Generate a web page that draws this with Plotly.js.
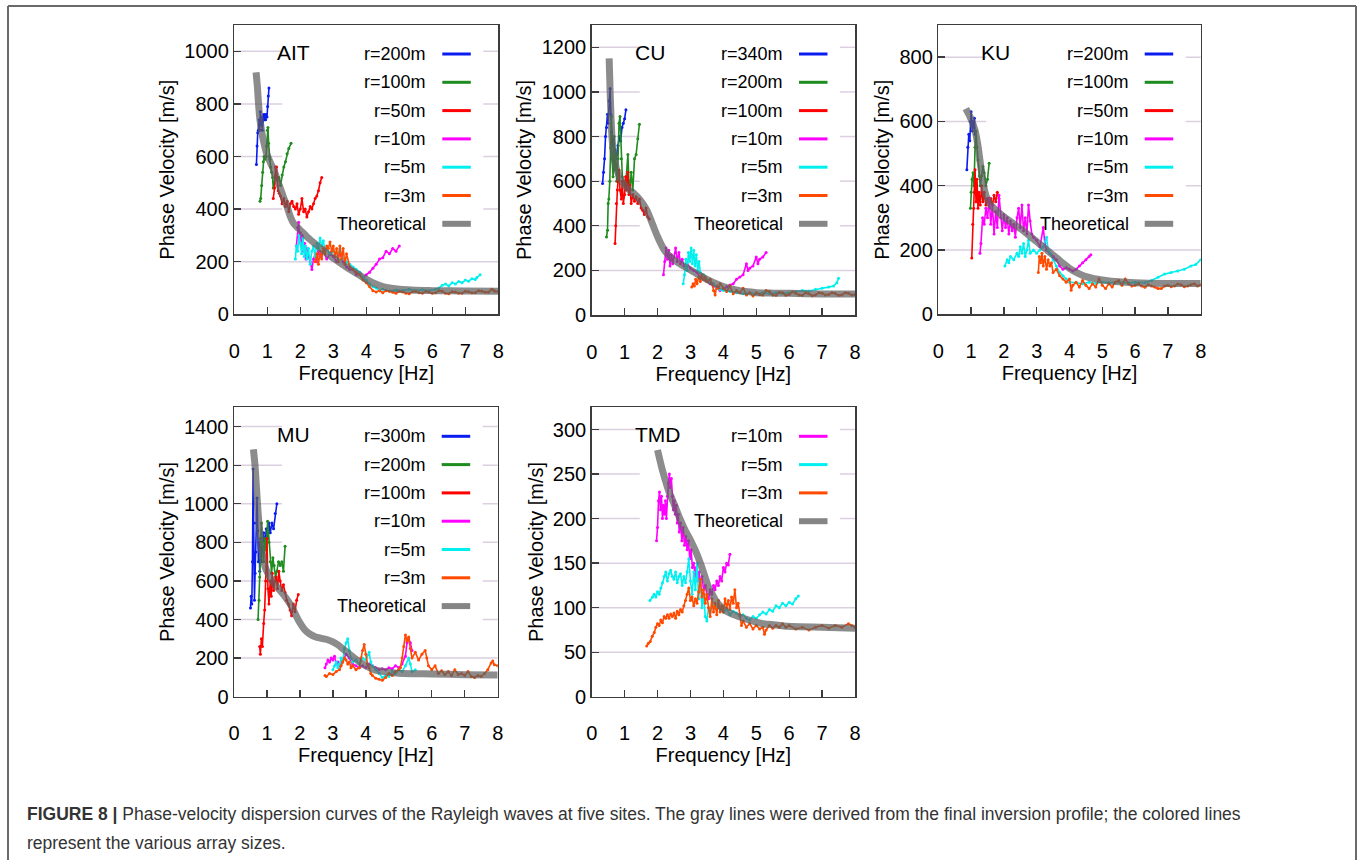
<!DOCTYPE html>
<html>
<head>
<meta charset="utf-8">
<script src="https://cdn.plot.ly/plotly-3.0.1.min.js"></script>
<style>
  html, body { margin: 0; padding: 0; background: #fff; }
  #chart { width: 1362px; height: 860px; }
</style>
</head>
<body>
<div id="chart"></div>
<script>
// ===================== DATA =====================
// Each series: [frequency Hz, phase velocity m/s]
const FREQ_TICKS = [0, 1, 2, 3, 4, 5, 6, 7, 8];
const LEGEND_LABELS_AIT = ["r=200m", "r=100m", "r=50m", "r=10m", "r=5m", "r=3m", "Theoretical"];
const LEGEND_LABELS_CU  = ["r=340m", "r=200m", "r=100m", "r=10m", "r=5m", "r=3m", "Theoretical"];
const LEGEND_LABELS_KU  = ["r=200m", "r=100m", "r=50m", "r=10m", "r=5m", "r=3m", "Theoretical"];
const LEGEND_LABELS_MU  = ["r=300m", "r=200m", "r=100m", "r=10m", "r=5m", "r=3m", "Theoretical"];
const LEGEND_LABELS_TMD = ["r=10m", "r=5m", "r=3m", "Theoretical"];

// ---- AIT ----
const AIT_theo = [[0.66,920],[0.70,865],[0.74,790],[0.78,738],[0.85,680],[0.92,640],[0.98,611],[1.1,575],[1.2,548],[1.3,512],[1.4,478],[1.5,442],[1.6,409],[1.7,371],[1.8,345],[1.9,332],[2.0,320],[2.2,295],[2.5,263],[2.75,238],[3.0,213],[3.25,192],[3.5,171],[3.75,152],[4.0,133],[4.25,117],[4.5,105],[4.75,99],[5.0,95],[5.5,91],[6.0,90],[7.0,89],[8.0,88]];
const AIT_r200 = [[0.67,570],[0.69,640],[0.71,690],[0.73,700],[0.75,740],[0.77,700],[0.79,770],[0.81,720],[0.83,750],[0.85,700],[0.87,740],[0.89,760],[0.91,740],[0.93,760],[0.95,740],[0.97,760],[0.99,750],[1.01,790],[1.03,830],[1.05,860]];
const AIT_r100 = [[0.78,430],[0.80,440],[0.83,490],[0.86,540],[0.88,580],[0.90,600],[0.93,590],[0.96,600],[0.98,640],[1.0,700],[1.02,710],[1.04,650],[1.06,600],[1.08,590],[1.10,560],[1.13,540],[1.16,520],[1.18,480],[1.2,500],[1.25,530],[1.3,510],[1.35,520],[1.4,490],[1.45,530],[1.5,560],[1.55,580],[1.6,610],[1.65,630],[1.72,650]];
const AIT_r50 = [[1.18,440],[1.22,480],[1.25,560],[1.28,560],[1.3,520],[1.33,470],[1.36,460],[1.4,450],[1.45,420],[1.5,440],[1.55,410],[1.6,430],[1.65,390],[1.7,420],[1.75,430],[1.8,410],[1.85,400],[1.9,420],[1.95,380],[2.0,400],[2.05,440],[2.1,390],[2.15,400],[2.2,370],[2.25,390],[2.3,410],[2.35,400],[2.4,420],[2.45,440],[2.5,450],[2.55,470],[2.6,500],[2.65,520]];
const AIT_r10 = [[1.88,260],[1.92,330],[1.95,350],[1.98,300],[2.0,310],[2.03,260],[2.06,300],[2.1,240],[2.13,270],[2.17,210],[2.2,250],[2.25,220],[2.3,200],[2.35,170],[2.4,210],[2.45,230],[2.5,200],[2.55,240],[2.6,220],[2.7,240],[2.8,210],[2.9,230],[3.0,220],[3.1,200],[3.2,230],[3.3,200],[3.4,180],[3.5,170],[3.6,170],[3.7,150],[3.8,160],[3.9,140],[4.0,150],[4.1,160],[4.2,175],[4.3,190],[4.4,210],[4.5,215],[4.6,240],[4.7,230],[4.8,250],[4.9,240],[5.0,260]];
const AIT_r5 = [[1.85,210],[1.88,260],[1.92,240],[1.96,300],[2.0,270],[2.04,230],[2.08,290],[2.12,220],[2.16,260],[2.2,210],[2.25,250],[2.3,190],[2.35,240],[2.4,260],[2.45,220],[2.5,270],[2.55,250],[2.6,290],[2.65,260],[2.7,280],[2.75,240],[2.8,250],[2.9,230],[3.0,240],[3.1,220],[3.2,250],[3.3,210],[3.4,200],[3.5,190],[3.6,180],[3.7,170],[3.8,160],[3.9,140],[4.0,130],[4.1,115],[4.2,105],[4.3,100],[4.4,90],[4.5,95],[4.7,88],[4.9,92],[5.1,90],[5.3,95],[5.5,90],[5.7,93],[5.9,90],[6.1,95],[6.2,100],[6.3,110],[6.4,115],[6.5,108],[6.6,120],[6.7,115],[6.8,125],[6.9,120],[7.0,130],[7.1,126],[7.2,135],[7.3,132],[7.35,140],[7.45,150]];
const AIT_r3 = [[2.45,200],[2.5,230],[2.55,190],[2.6,240],[2.65,210],[2.7,250],[2.75,230],[2.8,260],[2.85,250],[2.9,275],[2.95,240],[3.0,260],[3.05,220],[3.1,250],[3.15,200],[3.2,260],[3.25,210],[3.3,250],[3.35,190],[3.4,230],[3.5,180],[3.6,170],[3.7,160],[3.8,150],[3.9,130],[4.0,120],[4.1,105],[4.2,90],[4.3,85],[4.4,90],[4.5,82],[4.6,90],[4.7,88],[4.8,84],[4.9,80],[5.0,88],[5.1,85],[5.2,80],[5.3,78],[5.4,86],[5.5,88],[5.6,82],[5.7,80],[5.8,88],[5.9,85],[6.0,80],[6.1,82],[6.2,90],[6.3,88],[6.4,80],[6.5,78],[6.6,86],[6.7,85],[6.8,80],[6.9,80],[7.0,88],[7.1,86],[7.2,82],[7.3,82],[7.4,90],[7.5,88],[7.6,84],[7.7,84],[7.8,95],[7.85,92],[7.9,88],[8.0,86]];

// ---- CU ----
const CU_theo = [[0.53,1150],[0.56,1000],[0.59,875],[0.62,790],[0.66,726],[0.71,685],[0.76,651],[0.86,615],[0.96,591],[1.1,566],[1.27,546],[1.47,516],[1.67,471],[1.8,426],[1.9,388],[2.0,352],[2.1,320],[2.2,292],[2.35,266],[2.5,247],[2.75,223],[3.0,202],[3.25,180],[3.5,160],[3.75,142],[4.0,127],[4.25,117],[4.5,109],[4.75,104],[5.0,100],[5.5,98],[6.0,97],[7.0,94],[8.0,94]];
const CU_r340 = [[0.33,590],[0.36,640],[0.39,700],[0.42,800],[0.45,840],[0.48,900],[0.5,860],[0.53,960],[0.56,1015],[0.58,900],[0.6,820],[0.63,760],[0.66,790],[0.7,740],[0.73,700],[0.76,720],[0.8,760],[0.84,800],[0.88,780],[0.92,840],[0.96,860],[1.0,880],[1.04,920]];
const CU_r200 = [[0.45,350],[0.48,380],[0.5,500],[0.52,520],[0.55,600],[0.58,750],[0.6,890],[0.62,700],[0.65,620],[0.68,800],[0.7,650],[0.73,720],[0.76,600],[0.8,700],[0.83,860],[0.86,890],[0.9,700],[0.93,620],[0.96,600],[1.0,580],[1.05,620],[1.1,720],[1.13,600],[1.16,560],[1.2,640],[1.25,560],[1.3,700],[1.35,720],[1.4,790],[1.45,855]];
const CU_r100 = [[0.71,320],[0.73,400],[0.75,500],[0.78,560],[0.8,600],[0.83,650],[0.86,560],[0.9,520],[0.93,600],[0.96,500],[1.0,540],[1.03,620],[1.06,560],[1.1,640],[1.13,540],[1.16,580],[1.2,500],[1.25,540],[1.3,510],[1.35,530],[1.4,500],[1.45,520],[1.5,480],[1.55,470],[1.6,450],[1.65,480],[1.7,440],[1.75,430]];
const CU_r10 = [[2.18,180],[2.22,240],[2.26,300],[2.3,250],[2.34,290],[2.38,220],[2.42,270],[2.46,230],[2.5,260],[2.55,300],[2.6,240],[2.65,280],[2.7,230],[2.75,250],[2.8,220],[2.9,230],[3.0,210],[3.1,200],[3.2,190],[3.3,170],[3.4,160],[3.5,150],[3.6,140],[3.7,130],[3.8,120],[3.9,110],[4.0,115],[4.1,125],[4.2,135],[4.3,140],[4.4,160],[4.5,170],[4.6,180],[4.7,230],[4.75,200],[4.8,210],[4.9,220],[5.0,260],[5.05,230],[5.1,250],[5.2,260],[5.3,280]];
const CU_r5 = [[2.78,140],[2.82,180],[2.86,250],[2.9,200],[2.94,280],[2.98,240],[3.02,300],[3.06,230],[3.1,290],[3.14,220],[3.18,270],[3.22,200],[3.26,240],[3.3,190],[3.4,180],[3.5,160],[3.6,150],[3.7,140],[3.8,120],[3.9,115],[4.0,110],[4.2,105],[4.4,100],[4.6,95],[4.8,100],[5.0,95],[5.2,100],[5.4,96],[5.6,100],[5.8,97],[6.0,100],[6.2,105],[6.4,110],[6.6,108],[6.8,115],[7.0,120],[7.2,125],[7.35,130],[7.45,145],[7.5,165]];
const CU_r3 = [[3.04,125],[3.08,140],[3.12,130],[3.16,160],[3.2,140],[3.25,170],[3.3,150],[3.35,180],[3.4,160],[3.45,170],[3.5,150],[3.6,160],[3.65,140],[3.7,110],[3.75,90],[3.8,130],[3.85,120],[3.9,140],[4.0,120],[4.1,105],[4.2,130],[4.3,95],[4.4,110],[4.5,100],[4.6,120],[4.7,90],[4.8,100],[4.9,85],[5.0,100],[5.1,92],[5.2,90],[5.3,110],[5.4,105],[5.5,90],[5.6,88],[5.7,102],[5.8,100],[5.9,88],[6.0,92],[6.1,104],[6.2,98],[6.3,90],[6.4,88],[6.5,100],[6.6,95],[6.7,86],[6.8,90],[6.9,100],[7.0,98],[7.1,90],[7.2,92],[7.3,100],[7.4,96],[7.5,88],[7.6,90],[7.7,100],[7.8,98],[7.9,90],[8.0,92]];

// ---- KU ----
const KU_theo = [[0.84,640],[0.9,628],[0.97,614],[1.05,594],[1.12,572],[1.2,530],[1.27,479],[1.32,440],[1.37,407],[1.42,382],[1.47,365],[1.6,340],[1.8,320],[2.0,303],[2.25,285],[2.5,267],[2.75,247],[3.0,226],[3.25,205],[3.5,184],[3.75,163],[4.0,143],[4.25,128],[4.5,117],[4.75,111],[5.0,107],[5.5,101],[6.0,98],[7.0,96],[8.0,96]];
const KU_r200 = [[0.87,450],[0.9,520],[0.93,560],[0.96,540],[0.98,600],[1.0,630],[1.02,600],[1.04,570],[1.06,600],[1.08,580],[1.1,610],[1.12,560]];
const KU_r100 = [[0.98,330],[1.0,380],[1.03,420],[1.06,440],[1.09,400],[1.12,520],[1.15,570],[1.18,520],[1.21,480],[1.25,430],[1.28,400],[1.32,430],[1.36,460],[1.4,440],[1.45,400],[1.5,420],[1.55,470]];
const KU_r50 = [[1.02,175],[1.05,280],[1.08,330],[1.1,380],[1.12,450],[1.15,350],[1.18,420],[1.21,330],[1.24,380],[1.28,340],[1.32,400],[1.36,350],[1.4,380],[1.45,340],[1.5,360],[1.55,330],[1.6,360],[1.65,340],[1.7,370],[1.75,350],[1.8,380],[1.85,360]];
const KU_r10 = [[1.27,190],[1.3,220],[1.35,300],[1.4,280],[1.45,330],[1.5,300],[1.55,360],[1.6,280],[1.65,340],[1.7,250],[1.75,320],[1.8,270],[1.85,370],[1.9,300],[1.95,260],[2.0,310],[2.05,270],[2.1,300],[2.15,250],[2.2,290],[2.25,260],[2.3,280],[2.35,240],[2.4,300],[2.45,330],[2.5,270],[2.55,340],[2.6,260],[2.65,300],[2.7,250],[2.75,340],[2.8,290],[2.85,250],[2.9,240],[3.0,230],[3.1,210],[3.2,270],[3.25,220],[3.3,200],[3.4,190],[3.5,180],[3.6,170],[3.7,150],[3.8,140],[3.9,145],[4.0,140],[4.1,135],[4.2,140],[4.3,150],[4.4,160],[4.5,170],[4.6,180],[4.65,185]];
const KU_r5 = [[2.03,150],[2.1,170],[2.15,160],[2.2,180],[2.3,170],[2.4,190],[2.45,180],[2.5,210],[2.55,190],[2.6,220],[2.65,180],[2.7,200],[2.75,230],[2.8,190],[2.9,200],[3.0,190],[3.1,200],[3.2,210],[3.3,240],[3.35,200],[3.4,190],[3.5,170],[3.6,150],[3.7,130],[3.8,120],[3.9,110],[4.0,100],[4.2,98],[4.4,95],[4.6,100],[4.8,96],[5.0,100],[5.2,98],[5.5,100],[5.8,97],[6.0,100],[6.3,98],[6.5,105],[6.7,115],[6.9,125],[7.1,130],[7.3,135],[7.5,140],[7.7,150],[7.85,155],[8.0,170]];
const KU_r3 = [[3.05,130],[3.08,180],[3.12,160],[3.16,190],[3.2,150],[3.25,180],[3.3,140],[3.35,170],[3.4,150],[3.45,160],[3.5,130],[3.6,140],[3.7,120],[3.8,110],[3.9,100],[4.0,110],[4.05,75],[4.1,90],[4.2,100],[4.3,85],[4.4,105],[4.5,90],[4.6,80],[4.7,95],[4.8,85],[4.9,110],[5.0,90],[5.1,80],[5.2,95],[5.3,85],[5.4,100],[5.5,105],[5.6,90],[5.7,110],[5.8,95],[5.9,88],[6.0,90],[6.1,95],[6.2,88],[6.3,84],[6.4,92],[6.5,88],[6.6,85],[6.7,80],[6.8,80],[6.9,88],[7.0,90],[7.1,86],[7.2,88],[7.3,94],[7.4,92],[7.5,86],[7.6,88],[7.7,92],[7.8,95],[7.9,88],[8.0,92]];

// ---- MU ----
const MU_theo = [[0.59,1282],[0.64,1193],[0.69,1060],[0.74,933],[0.79,840],[0.84,760],[0.94,674],[1.04,635],[1.14,605],[1.34,562],[1.55,518],[1.75,467],[1.95,397],[2.15,346],[2.3,325],[2.46,311],[2.66,302],[2.86,294],[3.0,284],[3.16,268],[3.3,248],[3.47,225],[3.67,198],[3.87,173],[4.08,153],[4.28,138],[4.58,130],[5.0,121],[5.5,119],[6.0,118],[7.0,114],[8.0,112]];
const MU_r300 = [[0.5,460],[0.52,520],[0.54,480],[0.56,700],[0.58,1180],[0.6,900],[0.62,500],[0.64,640],[0.66,750],[0.68,900],[0.7,1030],[0.72,860],[0.74,700],[0.76,800],[0.78,650],[0.8,820],[0.83,700],[0.86,780],[0.9,850],[0.94,780],[0.98,870],[1.02,820],[1.06,900],[1.1,850],[1.15,900],[1.2,870],[1.25,950],[1.3,1000]];
const MU_r200 = [[0.73,400],[0.76,500],[0.78,620],[0.8,720],[0.83,900],[0.86,800],[0.9,700],[0.94,820],[0.98,760],[1.02,910],[1.06,800],[1.1,700],[1.14,640],[1.18,720],[1.22,680],[1.26,620],[1.3,650],[1.35,700],[1.4,680],[1.45,700],[1.5,650],[1.55,780]];
const MU_r100 = [[0.78,260],[0.8,220],[0.83,300],[0.86,260],[0.9,380],[0.93,450],[0.96,600],[1.0,820],[1.03,560],[1.06,480],[1.1,600],[1.13,520],[1.16,640],[1.2,550],[1.24,600],[1.28,620],[1.32,560],[1.36,650],[1.4,600],[1.45,550],[1.5,580],[1.55,540],[1.6,500],[1.65,480],[1.7,450],[1.75,420],[1.8,480],[1.85,440],[1.9,500],[1.95,530]];
const MU_r10 = [[2.76,150],[2.8,170],[2.85,190],[2.9,180],[2.95,200],[3.0,190],[3.05,210],[3.1,170],[3.15,180],[3.2,160],[3.3,190],[3.4,220],[3.5,200],[3.6,170],[3.7,160],[3.8,150],[3.9,160],[4.0,150],[4.1,170],[4.2,160],[4.3,150],[4.4,140],[4.5,145],[4.6,140],[4.7,150],[4.8,145],[4.9,160],[5.0,150],[5.1,170],[5.2,210],[5.25,280],[5.3,300],[5.35,280],[5.4,240]];
const MU_r5 = [[3.0,140],[3.05,160],[3.1,180],[3.15,150],[3.2,170],[3.25,200],[3.3,180],[3.35,250],[3.4,280],[3.45,300],[3.5,240],[3.55,200],[3.6,180],[3.7,190],[3.8,170],[3.9,200],[4.0,190],[4.1,230],[4.15,180],[4.2,160],[4.3,140],[4.4,120],[4.5,100],[4.6,110],[4.7,105],[4.8,130],[4.9,120],[5.0,140],[5.1,130],[5.2,160],[5.3,200],[5.35,170],[5.4,130],[5.5,140]];
const MU_r3 = [[2.76,110],[2.8,105],[2.9,120],[3.0,115],[3.1,130],[3.2,140],[3.25,160],[3.3,180],[3.35,200],[3.4,190],[3.45,170],[3.5,180],[3.55,150],[3.6,160],[3.7,140],[3.8,150],[3.85,200],[3.9,240],[3.95,270],[4.0,220],[4.05,170],[4.1,150],[4.15,120],[4.2,110],[4.3,95],[4.4,90],[4.5,85],[4.6,100],[4.7,120],[4.8,110],[4.9,130],[5.0,140],[5.05,150],[5.1,200],[5.15,260],[5.2,320],[5.25,290],[5.3,310],[5.35,250],[5.4,200],[5.5,230],[5.6,190],[5.7,220],[5.8,240],[5.85,200],[5.9,160],[6.0,140],[6.1,160],[6.2,120],[6.3,135],[6.4,115],[6.5,130],[6.6,110],[6.7,140],[6.8,115],[6.9,120],[7.0,110],[7.1,130],[7.2,105],[7.3,100],[7.4,110],[7.5,105],[7.6,120],[7.7,140],[7.8,175],[7.85,185],[7.9,165],[8.0,160]];

// ---- TMD ----
const TMD_theo = [[2.0,277],[2.13,257],[2.23,244],[2.33,232],[2.43,223],[2.53,214],[2.68,200],[2.84,187],[3.0,176],[3.14,165],[3.24,156],[3.34,146],[3.44,135],[3.54,124],[3.65,116],[3.75,109],[3.9,102],[4.05,97],[4.25,93],[4.46,90],[4.7,87],[4.96,84],[5.2,82],[5.47,81],[5.97,79],[7.0,78],[8.0,77]];
const TMD_r10 = [[1.97,175],[2.0,190],[2.03,220],[2.06,230],[2.09,210],[2.12,225],[2.15,200],[2.18,215],[2.21,205],[2.24,220],[2.27,200],[2.3,225],[2.33,240],[2.36,250],[2.39,235],[2.42,245],[2.45,225],[2.48,210],[2.51,220],[2.54,205],[2.57,215],[2.6,195],[2.63,205],[2.66,185],[2.7,195],[2.74,175],[2.78,190],[2.82,170],[2.86,180],[2.9,165],[2.94,175],[2.98,155],[3.02,165],[3.06,145],[3.1,150],[3.14,135],[3.18,145],[3.22,130],[3.26,140],[3.3,125],[3.35,135],[3.4,120],[3.45,125],[3.5,115],[3.55,110],[3.6,120],[3.65,115],[3.7,125],[3.75,120],[3.8,130],[3.85,125],[3.9,135],[3.95,130],[4.0,145],[4.05,140],[4.1,150],[4.15,148],[4.2,160]];
const TMD_r5 = [[1.77,108],[1.85,112],[1.9,115],[1.95,112],[2.0,118],[2.05,115],[2.1,122],[2.15,128],[2.2,135],[2.25,140],[2.3,130],[2.35,138],[2.4,142],[2.45,135],[2.5,132],[2.55,140],[2.6,128],[2.65,135],[2.7,138],[2.75,125],[2.8,135],[2.85,128],[2.9,140],[2.95,155],[3.0,130],[3.05,115],[3.1,140],[3.15,120],[3.2,150],[3.25,110],[3.3,130],[3.35,100],[3.4,115],[3.45,90],[3.5,85],[3.55,100],[3.6,95],[3.7,105],[3.8,98],[3.9,100],[4.0,95],[4.1,98],[4.2,92],[4.3,96],[4.4,94],[4.5,90],[4.6,92],[4.7,88],[4.8,86],[4.9,90],[5.0,88],[5.1,92],[5.2,95],[5.3,93],[5.4,98],[5.5,96],[5.6,102],[5.7,100],[5.8,105],[5.9,102],[6.0,106],[6.1,104],[6.2,110],[6.28,113]];
const TMD_r3 = [[1.67,57],[1.72,60],[1.78,62],[1.84,68],[1.9,72],[1.95,78],[2.0,82],[2.05,80],[2.1,86],[2.15,83],[2.2,90],[2.25,88],[2.3,92],[2.35,88],[2.4,93],[2.45,90],[2.5,94],[2.55,88],[2.6,96],[2.65,92],[2.7,98],[2.75,95],[2.8,102],[2.85,108],[2.9,115],[2.95,122],[3.0,108],[3.05,112],[3.1,102],[3.15,110],[3.2,105],[3.25,118],[3.3,132],[3.35,112],[3.4,120],[3.45,105],[3.5,115],[3.55,100],[3.6,90],[3.65,110],[3.7,95],[3.75,105],[3.8,92],[3.85,108],[3.9,95],[3.95,102],[4.0,95],[4.05,110],[4.1,100],[4.15,108],[4.2,98],[4.25,112],[4.3,105],[4.35,120],[4.4,100],[4.45,105],[4.5,92],[4.55,80],[4.6,85],[4.7,78],[4.8,82],[4.9,76],[5.0,80],[5.1,76],[5.2,78],[5.25,70],[5.3,75],[5.4,80],[5.5,77],[5.6,80],[5.7,78],[5.8,82],[5.9,78],[6.0,80],[6.2,76],[6.4,78],[6.6,75],[6.8,78],[7.0,80],[7.2,77],[7.4,80],[7.6,78],[7.8,82],[7.9,80],[8.0,78]];

const CAPTION_1 = "<b>FIGURE 8 |</b> Phase-velocity dispersion curves of the Rayleigh waves at five sites. The gray lines were derived from the final inversion profile; the colored lines";
const CAPTION_2 = "represent the various array sizes.";

// ===================== STYLE / LAYOUT =====================
const W = 1362, H = 860;
const FONT = "'Liberation Sans', Arial, Helvetica, sans-serif";
const C_BLUE = "#0a1cf0", C_GREEN = "#1e8c1e", C_RED = "#ff0000",
      C_MAG = "#ff00ff", C_CYAN = "#00f0f0", C_ORANGE = "#ff4a00";
const C_THEO = "rgba(95,95,95,0.72)", C_THEO_KEY = "#858585";
const GRID = "#dccfe0", AXIS = "#3c3c3c";

function px(x) { return x / W; }
function py(y) { return 1 - y / H; }

const panels = [
  { id: "", label: "AIT", box: [234.3, 25, 498.3, 314.3], ymax: 1100, dtick: 200,
    names: LEGEND_LABELS_AIT,
    series: [AIT_r200, AIT_r100, AIT_r50, AIT_r10, AIT_r5, AIT_r3],
    colors: [C_BLUE, C_GREEN, C_RED, C_MAG, C_CYAN, C_ORANGE], theo: AIT_theo },
  { id: "2", label: "CU", box: [591.7, 25, 855, 315], ymax: 1300, dtick: 200,
    names: LEGEND_LABELS_CU,
    series: [CU_r340, CU_r200, CU_r100, CU_r10, CU_r5, CU_r3],
    colors: [C_BLUE, C_GREEN, C_RED, C_MAG, C_CYAN, C_ORANGE], theo: CU_theo },
  { id: "3", label: "KU", box: [938.3, 25, 1200.7, 314.3], ymax: 900, dtick: 200,
    names: LEGEND_LABELS_KU,
    series: [KU_r200, KU_r100, KU_r50, KU_r10, KU_r5, KU_r3],
    colors: [C_BLUE, C_GREEN, C_RED, C_MAG, C_CYAN, C_ORANGE], theo: KU_theo },
  { id: "4", label: "MU", box: [234, 407.3, 497.7, 696.7], ymax: 1500, dtick: 200,
    names: LEGEND_LABELS_MU,
    series: [MU_r300, MU_r200, MU_r100, MU_r10, MU_r5, MU_r3],
    colors: [C_BLUE, C_GREEN, C_RED, C_MAG, C_CYAN, C_ORANGE], theo: MU_theo },
  { id: "5", label: "TMD", box: [591.7, 407.3, 855, 696.7], ymax: 325, dtick: 50,
    names: LEGEND_LABELS_TMD,
    series: [TMD_r10, TMD_r5, TMD_r3],
    colors: [C_MAG, C_CYAN, C_ORANGE], theo: TMD_theo }
];

const traces = [];
const layout = {
  width: W, height: H, autosize: false,
  margin: { l: 0, r: 0, t: 0, b: 0, pad: 0 },
  paper_bgcolor: "#ffffff", plot_bgcolor: "#ffffff",
  showlegend: false,
  font: { family: FONT, color: "#000", size: 20 },
  shapes: [], annotations: []
};

panels.forEach(p => {
  const xa = "x" + p.id, ya = "y" + p.id;
  const [L, T, R, B] = p.box;
  const w = R - L, h = B - T;
  p.series.forEach((s, i) => {
    traces.push({
      type: "scatter", mode: "lines+markers", name: p.names[i],
      x: s.map(d => d[0]), y: s.map(d => d[1]),
      xaxis: xa, yaxis: ya,
      line: { color: p.colors[i], width: 1.6 },
      marker: { color: p.colors[i], size: 3 },
      hoverinfo: "x+y+name"
    });
  });
  traces.push({
    type: "scatter", mode: "lines", name: "Theoretical",
    x: p.theo.map(d => d[0]), y: p.theo.map(d => d[1]),
    xaxis: xa, yaxis: ya,
    line: { color: C_THEO, width: 7, shape: "spline", smoothing: 0.6 },
    hoverinfo: "x+y+name"
  });

  layout["xaxis" + p.id] = {
    domain: [px(L), px(R)], anchor: ya, range: [0, 8],
    tickvals: FREQ_TICKS, ticktext: FREQ_TICKS.map(String),
    ticks: "inside", ticklen: 7, tickwidth: 1.3, tickcolor: AXIS,
    showline: true, mirror: true, linecolor: AXIS, linewidth: 1.5,
    showgrid: false, zeroline: false, ticklabelstandoff: 18,
    tickfont: { family: FONT, size: 20, color: "#000" },
    title: { text: "Frequency [Hz]", standoff: 5, font: { family: FONT, size: 20, color: "#000" } },
    fixedrange: true
  };
  layout["yaxis" + p.id] = {
    domain: [py(B), py(T)], anchor: xa, range: [0, p.ymax], dtick: p.dtick, tick0: 0,
    ticks: "inside", ticklen: 7, tickwidth: 1.3, tickcolor: AXIS,
    showline: true, mirror: true, linecolor: AXIS, linewidth: 1.5,
    showgrid: false, zeroline: false,
    tickfont: { family: FONT, size: 20, color: "#000" },
    title: { text: "Phase Velocity [m/s]", standoff: 4, font: { family: FONT, size: 20, color: "#000" } },
    fixedrange: true
  };

  // key (legend) area: horizontal grid lines are interrupted where the opaque key sits
  const n = p.names.length;
  const rowY = i => T + 29 + i * 28.3;
  const keyBottomPx = rowY(n - 1) + 16;
  const keyBottomVal = (B - keyBottomPx) / h * p.ymax;
  const kx0 = 48 / w, kx1 = 1 - 15 / w;
  for (let v = p.dtick; v <= p.ymax; v += p.dtick) {
    const segs = (v >= keyBottomVal) ? [[0, kx0], [kx1, 1]] : [[0, 1]];
    segs.forEach(sg => {
      layout.shapes.push({
        type: "line", xref: xa + " domain", yref: ya, layer: "below",
        x0: sg[0], x1: sg[1], y0: v, y1: v,
        line: { color: GRID, width: 1.5 }
      });
    });
  }
  p.names.forEach((nm, i) => {
    const y = rowY(i);
    const isTheo = (i === n - 1);
    layout.annotations.push({
      xref: "paper", yref: "paper", x: px(R - 70), y: py(y),
      xanchor: "right", yanchor: "middle", showarrow: false,
      text: nm, font: { family: FONT, size: 18, color: "#000" }
    });
    layout.shapes.push({
      type: "line", xref: "paper", yref: "paper", layer: "above",
      x0: px(R - 56), x1: px(R - 27.5), y0: py(y), y1: py(y),
      line: { color: isTheo ? C_THEO_KEY : p.colors[i], width: isTheo ? 6 : 3 }
    });
  });
  // panel label
  layout.annotations.push({
    xref: "paper", yref: "paper", x: px(L + 41), y: py(T + 27),
    xanchor: "left", yanchor: "middle", showarrow: false,
    text: p.label, font: { family: FONT, size: 21, color: "#000" }
  });
});

// figure frame
layout.shapes.push(
  { type: "line", xref: "paper", yref: "paper", layer: "above", x0: px(8), x1: px(8), y0: py(6), y1: 0, line: { color: "#6a6a6a", width: 2 } },
  { type: "line", xref: "paper", yref: "paper", layer: "above", x0: px(8), x1: px(1356), y0: py(6), y1: py(6), line: { color: "#6a6a6a", width: 2 } },
  { type: "line", xref: "paper", yref: "paper", layer: "above", x0: px(1356), x1: px(1356), y0: py(6), y1: 0, line: { color: "#6a6a6a", width: 2 } }
);

// caption
layout.annotations.push(
  { xref: "paper", yref: "paper", x: px(25), y: py(814), xanchor: "left", yanchor: "middle", showarrow: false,
    text: CAPTION_1, font: { family: FONT, size: 17.5, color: "#333" } },
  { xref: "paper", yref: "paper", x: px(25), y: py(843), xanchor: "left", yanchor: "middle", showarrow: false,
    text: CAPTION_2, font: { family: FONT, size: 17.5, color: "#333" } }
);

Plotly.newPlot("chart", traces, layout, { displayModeBar: false, staticPlot: true });
</script>
</body>
</html>
